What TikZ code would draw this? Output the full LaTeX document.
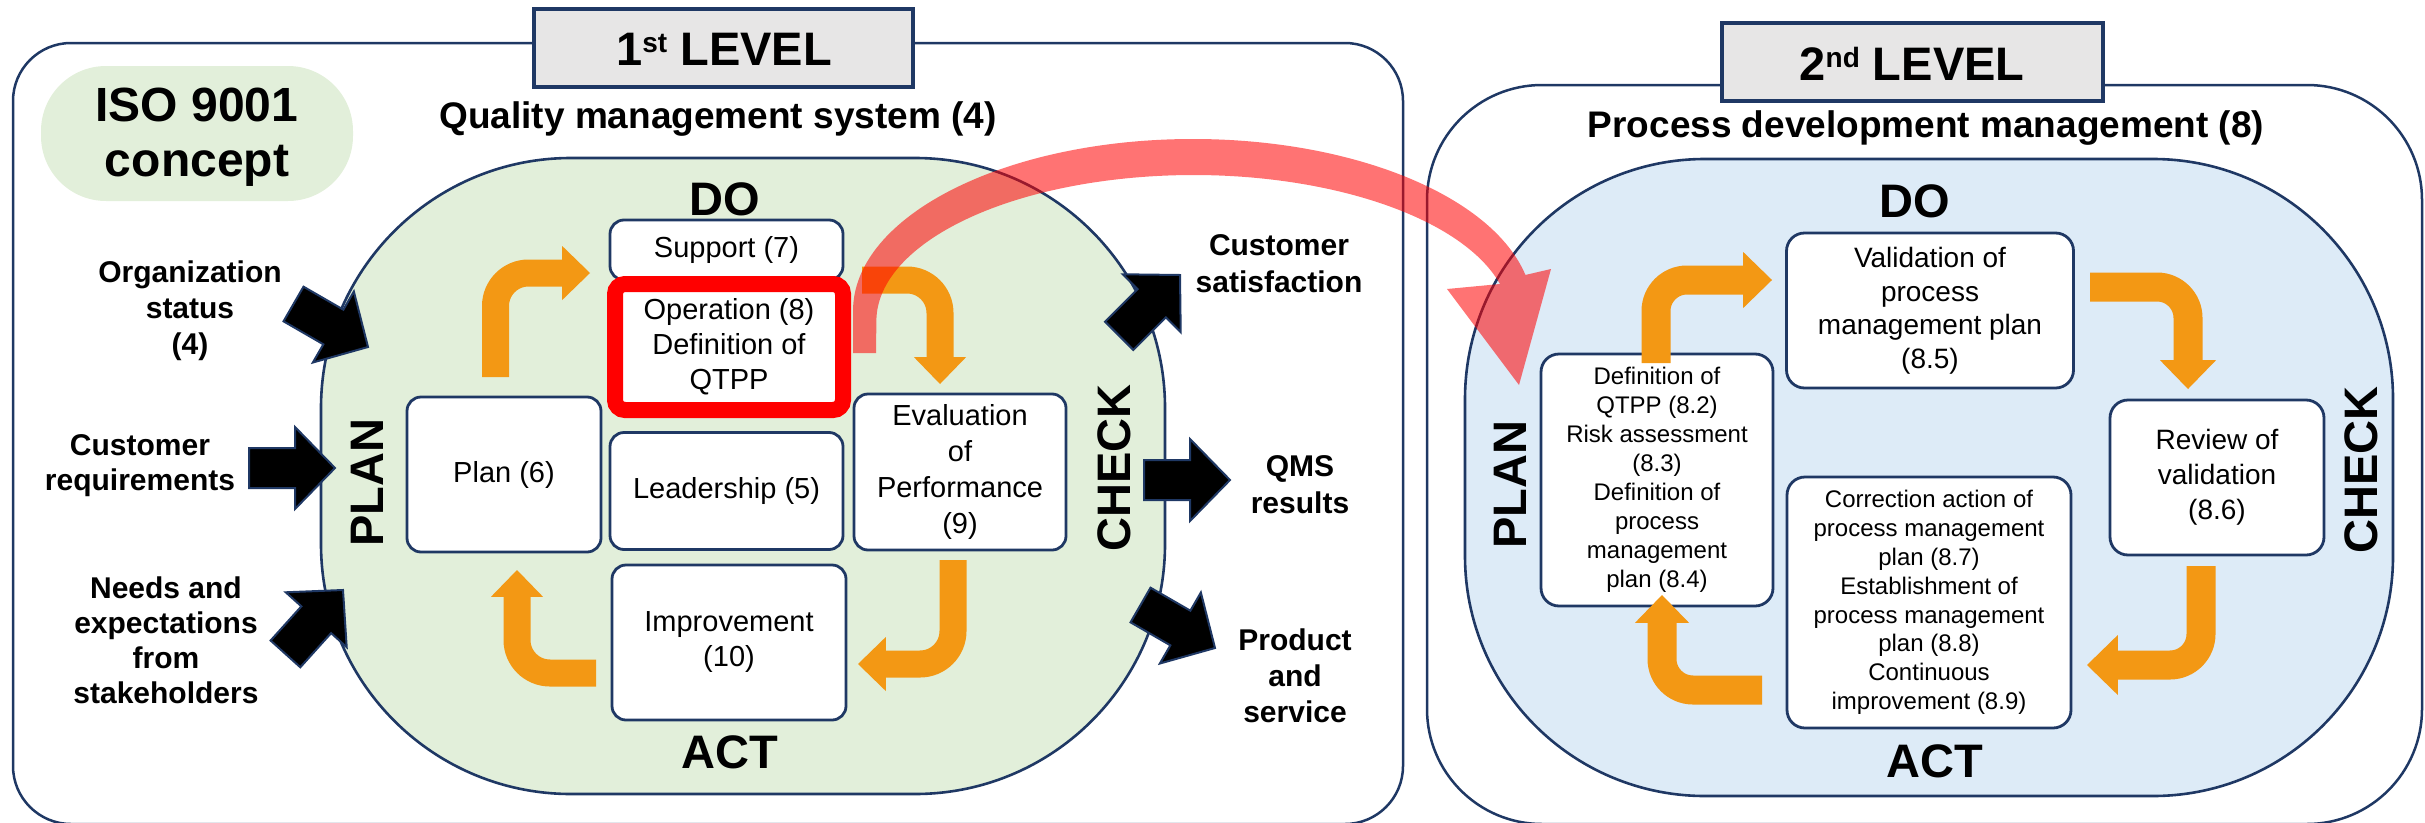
\documentclass[tikz,border=0pt]{standalone}
\usepackage{fontspec}
\setmainfont{Liberation Sans}
\definecolor{navy}{RGB}{31,56,100}
\definecolor{qmsgreen}{RGB}{226,239,218}
\definecolor{pdmblue}{RGB}{221,235,247}
\definecolor{titlegray}{RGB}{231,230,230}
\definecolor{pdcaorange}{RGB}{243,152,20}
\newcommand{\setfs}[2]{\fontsize{#1}{#2}\selectfont}

\begin{document}
\begin{tikzpicture}[x=1pt,y=-1pt,
  every node/.style={inner sep=0pt, outer sep=0pt},
  outerframe/.style={draw=navy, line width=2.5pt},
  titlebox/.style={draw=navy, line width=3.2pt, fill=titlegray},
  cycleshape/.style={draw=navy, line width=2.6pt},
  stagebox/.style={draw=navy, line width=2.8pt, fill=white, rounded corners=14pt, align=center},
  phase/.style={font=\bfseries\setfs{47}{47}},
  sidelabel/.style={font=\bfseries\setfs{30}{36}, align=center},
  obend/.style={draw=pdcaorange, line width=#1},
  pics/ohead/.style={code={\fill[pdcaorange] (-0.8,-#1) -- (#1,0) -- (-0.8,#1) -- cycle;}},
  pics/blockarrow/.style={code={\filldraw[fill=black, draw=navy, line width=2pt, line join=miter]
      (0,0) -- (-40,-41) -- (-40,-20) -- (-86,-20) -- (-86,20) -- (-40,20) -- (-40,41) -- cycle;}},
]
\useasboundingbox (0,0) rectangle (2425,822);

% ---------- frames of the two levels ----------
\draw[outerframe, rounded corners=58pt] (13,43) rectangle (1403,824);
\draw[outerframe, rounded corners=115pt] (1427,85) rectangle (2422,824);

\node[titlebox, minimum width=379pt, minimum height=78pt] (lvl1box) at (723.5,48) {};
\node[anchor=base, font=\bfseries\setfs{47}{47}] (lvl1) at (724,65)
  {1\raisebox{13pt}{\setfs{28}{28}st} LEVEL};
\node[titlebox, minimum width=381pt, minimum height=78pt] (lvl2box) at (1912.5,62) {};
\node[anchor=base, font=\bfseries\setfs{47}{47}] (lvl2) at (1912,80)
  {2\raisebox{13pt}{\setfs{28}{28}nd} LEVEL};

% ---------- ISO badge and headings ----------
\fill[qmsgreen, rounded corners=65pt] (41,66) rectangle (353,201);
\node[align=center, font=\bfseries\setfs{48}{55}] (iso) at (197,137) {ISO 9001\\concept};
\node[anchor=base, font=\bfseries\setfs{37}{37}] (qms) at (718,128) {Quality management system (4)};
\node[anchor=base, font=\bfseries\setfs{37}{37}] (pdm) at (1926,137) {Process development management (8)};

% ---------- PDCA areas ----------
\draw[cycleshape, fill=qmsgreen, rounded corners=250pt] (321,158) rectangle (1165,794);
\draw[cycleshape, fill=pdmblue, rounded corners=240pt] (1465,159) rectangle (2393,796);

% ---------- inputs and outputs of the QMS ----------
\pic[rotate=-30] (inOrg) at (368,347) {blockarrow};
\pic (inReq) at (335,468) {blockarrow};
\pic[rotate=48] (inNeeds) at (343,590) {blockarrow};
\pic[rotate=45] (outSat) at (1180,275) {blockarrow};
\pic (outRes) at (1230,480) {blockarrow};
\pic[rotate=-30] (outProd) at (1215,648) {blockarrow};

\node[sidelabel] (org) at (190,311) {Organization\\status\\(4)};
\node[sidelabel, font=\bfseries\setfs{30}{35}] (req) at (140,466) {Customer\\requirements};
\node[sidelabel, font=\bfseries\setfs{30}{35}] (needs) at (166,640) {Needs and\\expectations\\from\\stakeholders};
\node[sidelabel, font=\bfseries\setfs{30}{37}] (sat) at (1279,264) {Customer\\satisfaction};
\node[sidelabel, font=\bfseries\setfs{30}{37}] (res) at (1300,485) {QMS\\results};
\node[sidelabel, font=\bfseries\setfs{30}{36}] (prod) at (1295,676) {Product\\and\\service};

% ---------- 1st level stages ----------
\node[stagebox, minimum width=233pt, minimum height=60pt, font=\setfs{29}{35}] (support) at (726.5,250) {Support (7)};
\node[draw=red, line width=16pt, fill=white, rounded corners=10pt, minimum width=228pt,
      minimum height=126pt, align=center, font=\setfs{29}{35}] (operation) at (729,347)
      {Operation (8)\\Definition of\\QTPP};
\node[stagebox, minimum width=233pt, minimum height=117pt, font=\setfs{29}{35}] (leader) at (726.5,491) {Leadership (5)};
\node[stagebox, minimum width=212pt, minimum height=156pt, font=\setfs{29}{36}] (evalp) at (960,472)
  {Evaluation\\of\\Performance\\(9)};
\node[stagebox, minimum width=194pt, minimum height=155pt, font=\setfs{29}{35}] (plan) at (504,474.5) {Plan (6)};
\node[stagebox, minimum width=234pt, minimum height=155pt, font=\setfs{29}{35}] (improve) at (729,642.5)
  {Improvement\\(10)};

% ---------- 2nd level stages ----------
\node[stagebox, rounded corners=18pt, minimum width=287pt, minimum height=155pt, font=\setfs{28}{33.5}] (valid) at (1930,310.5)
  {Validation of\\process\\management plan\\(8.5)};
\node[stagebox, rounded corners=18pt, minimum width=232pt, minimum height=252pt, font=\setfs{24}{29}] (defin) at (1657,480)
  {Definition of\\QTPP (8.2)\\Risk assessment\\(8.3)\\Definition of\\process\\management\\plan (8.4)};
\node[stagebox, rounded corners=18pt, minimum width=214pt, minimum height=155pt, font=\setfs{28}{35}] (review) at (2217,477.5)
  {Review of\\validation\\(8.6)};
\node[stagebox, rounded corners=18pt, minimum width=284pt, minimum height=251pt, font=\setfs{24}{28.8}] (correct) at (1929,602.5)
  {Correction action of\\process management\\plan (8.7)\\Establishment of\\process management\\plan (8.8)\\Continuous\\improvement (8.9)};

% ---------- PDCA cycle arrows, 1st level ----------
\coordinate (a1s) at (495.5,377);  \coordinate (a1h) at (563,273);
\coordinate (a2s) at (862,280);    \coordinate (a2h) at (940,358);
\coordinate (a3s) at (953,560);    \coordinate (a3h) at (885,664);
\coordinate (a4s) at (596,673);    \coordinate (a4h) at (517,596);
\begin{scope}[rounded corners=33pt]
  \draw[obend=27pt] (a1s) |- (a1h);
  \draw[obend=27pt] (a2s) -| (a2h);
  \draw[obend=27pt] (a3s) |- (a3h);
  \draw[obend=27pt] (a4s) -| (a4h);
\end{scope}
\pic (h1) at (a1h) {ohead=27};
\pic[rotate=-90] (h2) at (a2h) {ohead=26};
\pic[rotate=180] (h3) at (a3h) {ohead=27};
\pic[rotate=90] (h4) at (a4h) {ohead=26};

% ---------- PDCA cycle arrows, 2nd level ----------
\coordinate (b1s) at (1656,363);   \coordinate (b1h) at (1744,280);
\coordinate (b2s) at (2090,287);   \coordinate (b2h) at (2188,361);
\coordinate (b3s) at (2201,566);   \coordinate (b3h) at (2117,665);
\coordinate (b4s) at (1762,690);   \coordinate (b4h) at (1662,622);
\begin{scope}[rounded corners=31pt]
  \draw[obend=29pt] (b1s) |- (b1h);
  \draw[obend=29pt] (b2s) -| (b2h);
  \draw[obend=29pt] (b3s) |- (b3h);
  \draw[obend=29pt] (b4s) -| (b4h);
\end{scope}
\pic (k1) at (b1h) {ohead=28};
\pic[rotate=-90] (k2) at (b2h) {ohead=28};
\pic[rotate=180] (k3) at (b3h) {ohead=30};
\pic[rotate=90] (k4) at (b4h) {ohead=27};

% ---------- phase names ----------
\node[phase, anchor=base] (do1) at (725,215) {DO};
\node[phase, anchor=base] (act1) at (730,768) {ACT};
\node[phase, anchor=base, rotate=90] (plan1) at (383,483) {PLAN};
\node[phase, anchor=base, rotate=90] (check1) at (1130,468) {CHECK};
\node[phase, anchor=base] (do2) at (1915,217) {DO};
\node[phase, anchor=base] (act2) at (1935,777) {ACT};
\node[phase, anchor=base, rotate=90] (plan2) at (1526,485) {PLAN};
\node[phase, anchor=base, rotate=90] (check2) at (2377,470) {CHECK};

% ---------- link from operation (8) to the 2nd level ----------
\fill[red, opacity=0.55]
  (853,353) -- (853,311)
  arc[start angle=180, end angle=347.9, x radius=340, y radius=172]
  -- (1551,269) -- (1519,385) -- (1447,289) -- (1500,284)
  arc[start angle=345.3, end angle=180, x radius=317, y radius=146]
  -- (876,353) -- cycle;
\end{tikzpicture}
\end{document}
